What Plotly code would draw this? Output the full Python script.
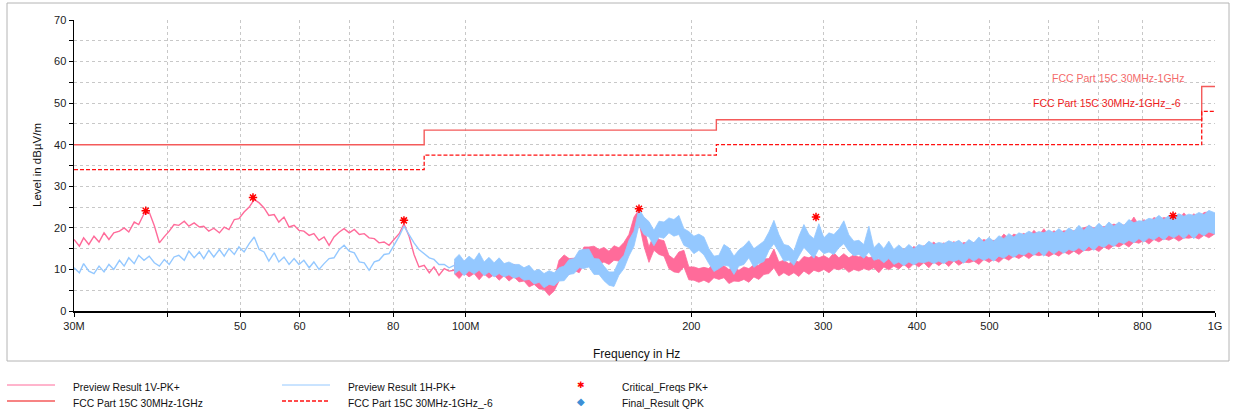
import math
import plotly.graph_objects as go

# ---------------- data (frequencies in MHz, levels in dBuV/m) ----------------
FREQ_LOW = [30.0, 30.5, 30.9, 31.4, 31.9, 32.4, 32.9, 33.4, 33.9, 34.5,
            35.0, 35.5, 36.1, 36.6, 37.2, 37.8, 38.4, 39.0, 39.6, 40.2,
            40.8, 41.4, 42.1, 42.7, 43.4, 44.1, 44.7, 45.4, 46.1, 46.9,
            47.6, 48.3, 49.1, 49.8, 50.6, 51.4, 52.2, 53.0, 53.8, 54.6,
            55.5, 56.3, 57.2, 58.1, 59.0, 59.9, 60.8, 61.8, 62.7, 63.7,
            64.7, 65.7, 66.7, 67.8, 68.8, 69.9, 71.0, 72.1, 73.2, 74.3,
            75.5, 76.6, 77.8, 79.0, 80.2, 81.5, 82.7, 84.0, 85.3, 86.6,
            88.0, 89.4, 90.7, 92.1, 93.6, 95.0, 96.5]

# Preview Result 1V-PK+ (low band, single line)
V_LOW = [17.2, 15.6, 17.6, 16.0, 18.0, 16.6, 18.8, 17.2, 18.8, 19.2,
         20.0, 19.0, 21.4, 20.8, 23.4, 23.8, 20.5, 16.4, 17.9, 19.2,
         20.8, 20.6, 21.6, 20.4, 21.2, 20.2, 20.4, 19.2, 19.9, 18.8,
         20.2, 19.6, 22.0, 22.2, 23.8, 25.0, 26.8, 26.0, 24.8, 23.0,
         23.2, 21.4, 22.6, 20.2, 20.6, 19.4, 19.2, 18.2, 18.6, 17.0,
         17.8, 15.8, 17.8, 19.0, 19.8, 18.8, 19.6, 18.4, 18.6, 17.6,
         17.4, 16.4, 16.6, 15.8, 17.2, 18.6, 21.0, 18.0, 13.6, 10.6,
         11.0, 9.2, 10.6, 8.6, 10.2, 9.6, 9.8]

# Preview Result 1H-PK+ (low band, single line)
H_LOW = [10.4, 9.2, 11.4, 9.6, 9.0, 10.8, 9.4, 11.2, 10.0, 12.2,
         10.8, 12.8, 11.4, 13.4, 12.2, 13.2, 11.6, 10.8, 12.4, 11.2,
         13.0, 13.4, 12.2, 14.4, 12.8, 14.2, 12.6, 14.6, 13.0, 14.8,
         13.2, 15.0, 13.6, 15.4, 14.2, 16.2, 17.8, 14.8, 14.2, 12.0,
         14.0, 11.8, 13.0, 11.2, 12.6, 11.2, 12.2, 10.4, 11.8, 10.0,
         11.4, 12.6, 12.8, 14.8, 15.8, 14.4, 14.0, 11.8, 11.6, 9.8,
         11.8, 12.2, 13.6, 13.8, 15.8, 18.0, 20.4, 18.2, 16.4, 14.8,
         13.8, 12.8, 12.4, 11.2, 11.2, 10.4, 11.0]

FREQ_BAND = [96.5, 98.0, 99.5, 101.0, 102.6, 104.2, 105.8, 107.4, 109.1, 110.8,
             112.5, 114.2, 116.0, 117.8, 119.6, 121.5, 123.4, 125.3, 127.2, 129.2,
             131.2, 133.2, 135.3, 137.4, 139.5, 141.7, 143.8, 146.0, 148.3, 150.6,
             152.9, 155.3, 157.7, 160.1, 162.6, 165.1, 167.7, 170.3, 172.9, 175.6,
             178.3, 181.1, 183.9, 186.7, 189.6, 192.5, 195.5, 198.5, 201.6, 204.7,
             207.9, 211.1, 214.4, 217.7, 221.1, 224.5, 228.0, 231.5, 235.1, 238.7,
             242.4, 246.2, 250.0, 253.9, 257.8, 261.8, 265.8, 269.9, 274.1, 278.3,
             282.7, 287.1, 291.5, 296.0, 300.6, 305.3, 310.0, 314.8, 319.6, 324.6,
             329.6, 334.7, 339.9, 345.2, 350.5, 355.9, 361.4, 367.0, 372.7, 378.5,
             384.3, 390.3, 396.3, 402.4, 408.7, 415.0, 421.4, 427.9, 434.6, 441.3,
             448.2, 455.1, 462.2, 469.4, 476.6, 484.0, 491.5, 499.1, 506.8, 514.7,
             522.6, 530.7, 538.9, 547.3, 555.8, 564.4, 573.1, 582.0, 591.0, 600.2,
             609.5, 618.9, 628.5, 638.2, 648.1, 658.2, 668.3, 678.7, 689.2, 699.9,
             710.7, 721.7, 732.9, 744.3, 755.8, 767.5, 779.4, 791.5, 803.7, 816.2,
             828.8, 841.7, 854.7, 867.9, 881.3, 895.0, 908.8, 922.9, 937.2, 951.7,
             966.5, 981.4, 1000.0]

# Preview Result 1V-PK+ (dense part: lower / upper edge of the noise band)
V_LO = [9.0, 7.8, 9.2, 8.2, 9.0, 7.5, 8.9, 7.9, 8.7, 7.4,
        8.5, 7.2, 8.2, 7.0, 7.2, 5.8, 6.4, 5.3, 5.2, 3.7,
        4.8, 7.2, 8.6, 8.8, 9.8, 9.2, 11.2, 11.5, 12.2, 11.1,
        11.8, 11.2, 12.2, 12.0, 13.2, 14.4, 18.6, 21.3, 15.6, 11.7,
        14.6, 13.6, 13.2, 10.2, 9.4, 9.2, 10.6, 7.5, 7.4, 6.9,
        7.4, 6.8, 8.0, 7.6, 8.0, 6.6, 7.2, 7.1, 7.6, 6.9,
        8.2, 7.6, 8.8, 9.0, 10.4, 8.4, 9.2, 8.5, 9.2, 8.3,
        9.6, 8.8, 9.8, 9.4, 10.0, 9.2, 10.2, 9.9, 10.4, 9.3,
        10.0, 9.6, 10.2, 9.8, 10.4, 9.2, 10.6, 9.9, 10.8, 10.1,
        11.2, 10.2, 11.4, 10.6, 11.6, 10.4, 11.8, 10.9, 11.8, 10.7,
        12.0, 11.0, 11.8, 11.6, 12.0, 11.2, 12.4, 11.7, 12.4, 11.7,
        12.8, 12.2, 13.2, 12.6, 13.4, 12.6, 13.6, 13.3, 13.6, 13.1,
        13.8, 13.2, 14.2, 13.6, 14.4, 13.6, 14.6, 14.5, 15.0, 14.3,
        15.4, 14.8, 15.8, 15.4, 16.2, 15.4, 16.6, 16.3, 17.0, 16.1,
        17.2, 16.6, 17.4, 17.0, 17.6, 16.8, 17.6, 17.5, 17.8, 17.3,
        18.2, 17.6, 18.6]
V_HI = [11.7, 10.6, 12.1, 10.4, 11.9, 10.6, 11.8, 10.4, 11.5, 10.2,
        11.3, 10.0, 11.3, 9.6, 9.7, 8.8, 9.4, 7.8, 8.0, 6.8,
        7.7, 12.2, 13.5, 12.6, 12.7, 13.0, 15.4, 15.4, 15.6, 14.8,
        15.3, 14.4, 15.7, 15.2, 16.5, 18.4, 22.6, 24.4, 20.0, 15.4,
        18.5, 17.2, 16.9, 13.4, 12.5, 14.2, 14.6, 10.6, 10.6, 10.2,
        10.5, 10.2, 11.7, 10.6, 10.9, 10.0, 10.6, 9.8, 10.6, 10.2,
        11.1, 11.0, 12.5, 12.6, 14.9, 11.8, 12.2, 11.4, 12.2, 11.8,
        13.1, 12.8, 13.5, 12.8, 13.3, 12.6, 14.0, 12.8, 13.8, 12.8,
        13.5, 13.0, 13.5, 12.8, 13.1, 12.4, 13.8, 13.0, 14.0, 14.0,
        14.9, 14.6, 15.5, 15.0, 15.7, 15.6, 16.6, 15.4, 16.4, 15.6,
        16.7, 15.8, 16.5, 16.2, 16.5, 16.6, 17.2, 16.8, 17.0, 17.0,
        18.5, 17.4, 18.5, 18.0, 18.7, 17.8, 19.4, 18.2, 19.8, 18.2,
        19.3, 18.8, 19.3, 19.2, 19.3, 19.4, 20.0, 20.4, 20.0, 20.0,
        20.3, 20.4, 20.9, 20.6, 20.7, 20.8, 22.6, 20.6, 22.0, 21.0,
        22.5, 22.0, 22.5, 22.2, 23.5, 22.0, 23.6, 22.2, 23.4, 22.4,
        23.7, 23.8, 23.4]

# Preview Result 1H-PK+ (dense part: lower / upper edge of the noise band)
H_LO = [8.9, 9.8, 8.5, 9.7, 8.9, 9.8, 8.5, 9.4, 8.2, 9.0,
        8.2, 8.7, 7.9, 8.3, 7.4, 7.6, 6.5, 6.9, 5.6, 6.4,
        6.1, 7.2, 7.3, 8.8, 9.0, 10.4, 10.2, 10.6, 8.8, 8.8,
        7.3, 6.2, 5.9, 8.6, 10.2, 13.2, 15.6, 20.6, 18.4, 17.8,
        15.7, 17.8, 17.5, 18.8, 18.0, 18.4, 15.8, 15.2, 13.8, 14.6,
        13.5, 11.4, 9.5, 10.2, 11.0, 10.8, 8.8, 10.8, 11.2, 12.8,
        10.5, 11.4, 11.9, 14.6, 16.2, 14.2, 12.0, 12.2, 11.0, 13.2,
        15.3, 14.0, 12.7, 15.0, 13.8, 14.2, 13.6, 15.2, 16.2, 14.4,
        13.3, 13.6, 12.7, 14.2, 12.2, 12.6, 11.6, 12.6, 11.2, 11.8,
        10.9, 11.8, 11.1, 11.8, 11.6, 12.0, 11.4, 12.0, 11.4, 12.2,
        11.9, 12.4, 11.5, 12.8, 12.0, 12.8, 12.2, 12.8, 12.0, 13.2,
        12.7, 13.6, 12.9, 13.8, 13.4, 14.2, 13.4, 14.4, 13.2, 14.6,
        13.7, 14.6, 13.9, 14.8, 14.4, 15.2, 14.4, 15.6, 14.6, 15.8,
        15.3, 16.2, 15.5, 16.6, 16.2, 17.0, 16.4, 17.4, 16.6, 17.6,
        17.1, 18.0, 17.1, 18.2, 17.6, 18.4, 17.4, 18.6, 17.4, 18.8,
        18.1, 19.0, 18.5]
H_HI = [12.4, 13.6, 12.0, 13.2, 12.2, 14.0, 11.8, 12.9, 11.6, 12.8,
        11.4, 11.8, 11.2, 11.2, 10.4, 11.0, 9.6, 10.0, 9.0, 9.7,
        9.2, 10.4, 10.8, 12.4, 12.6, 14.6, 14.8, 14.9, 12.6, 12.5,
        10.8, 9.4, 9.4, 12.0, 13.4, 17.0, 19.2, 24.6, 22.6, 21.5,
        19.4, 21.6, 21.4, 22.4, 22.0, 23.0, 19.8, 19.1, 18.0, 18.5,
        17.8, 15.0, 13.2, 13.4, 16.0, 15.2, 13.2, 14.7, 15.6, 16.9,
        15.0, 16.0, 16.8, 19.0, 21.8, 18.4, 16.0, 15.7, 14.4, 17.9,
        20.8, 18.4, 17.4, 21.0, 17.6, 18.8, 18.4, 19.7, 21.7, 18.3,
        16.8, 17.0, 16.0, 20.4, 15.2, 16.4, 15.0, 16.8, 14.8, 15.9,
        14.8, 16.0, 15.0, 16.0, 15.6, 16.8, 16.0, 16.5, 16.2, 16.9,
        16.4, 17.0, 16.0, 17.2, 16.4, 17.8, 16.6, 17.7, 16.8, 18.1,
        17.4, 18.6, 17.8, 18.8, 18.4, 19.2, 18.6, 19.1, 18.8, 19.5,
        18.8, 19.8, 18.8, 20.0, 19.2, 20.6, 19.4, 20.7, 19.8, 21.1,
        20.0, 21.4, 20.4, 21.4, 20.6, 22.0, 21.2, 21.7, 21.6, 22.3,
        22.0, 23.0, 22.0, 23.0, 22.6, 23.4, 22.8, 23.3, 23.0, 23.7,
        23.2, 24.2, 23.6]

# Critical_Freqs PK+
CRIT_F = [37.4, 52.0, 82.7, 170.3, 293.4, 879.0]
CRIT_L = [24.1, 27.3, 21.8, 24.6, 22.6, 22.9]

# FCC Part 15C 30MHz-1GHz limit (band edges and levels)
LIMIT_EDGES = [30, 88, 216, 960, 1000]
LIMIT_LEVELS = [40.0, 43.5, 46.0, 54.0]
MARGIN = 6.0

X_TICKS = [30, 40, 50, 60, 70, 80, 100, 200, 300, 400, 500, 600, 700, 800, 1000]
X_TICKTEXT = ["30M", "", "50", "60", "", "80", "100M", "200", "300", "400", "500", "", "", "800", "1G"]

# ---------------- styling ----------------
PINK = "#ff6b9a"
BLUE = "#94c8ff"
LIM_RED = "#f45a5a"
DASH_RED = "#ff1010"
FONT = "Liberation Sans, Arial, sans-serif"

W, H = 1235, 415
L, R, T, B = 74, 20, 20, 104
PW, PH = W - L - R, H - T - B


def px(x):
    return (x - L) / PW


def py(y):
    return (H - B - y) / PH


fig = go.Figure()

# pink (1V)
fig.add_trace(go.Scatter(x=FREQ_LOW, y=V_LOW, mode="lines",
                         line=dict(color=PINK, width=1.4), hoverinfo="skip"))
fig.add_trace(go.Scatter(x=FREQ_BAND + FREQ_BAND[::-1], y=V_HI + V_LO[::-1],
                         mode="lines", fill="toself", fillcolor=PINK,
                         line=dict(color=PINK, width=0.8), hoverinfo="skip"))
# blue (1H)
fig.add_trace(go.Scatter(x=FREQ_LOW, y=H_LOW, mode="lines",
                         line=dict(color=BLUE, width=1.4), hoverinfo="skip"))
fig.add_trace(go.Scatter(x=FREQ_BAND + FREQ_BAND[::-1], y=H_HI + H_LO[::-1],
                         mode="lines", fill="toself", fillcolor=BLUE,
                         line=dict(color=BLUE, width=0.8), hoverinfo="skip"))

# limit lines
lim_y = LIMIT_LEVELS + [LIMIT_LEVELS[-1]]
fig.add_trace(go.Scatter(x=LIMIT_EDGES, y=lim_y, mode="lines", line_shape="hv",
                         line=dict(color=LIM_RED, width=1.4), hoverinfo="skip"))
fig.add_trace(go.Scatter(x=LIMIT_EDGES, y=[v - MARGIN for v in lim_y], mode="lines",
                         line_shape="hv",
                         line=dict(color=DASH_RED, width=1.3, dash="4px,2px"),
                         hoverinfo="skip"))

# critical frequencies
fig.add_trace(go.Scatter(x=CRIT_F, y=CRIT_L, mode="markers",
                         marker=dict(symbol="circle", size=3.5, color="#ff0000"),
                         hoverinfo="skip"))
fig.add_trace(go.Scatter(x=CRIT_F, y=CRIT_L, mode="markers",
                         marker=dict(symbol="asterisk", size=7,
                                     line=dict(color="#ff0000", width=1.5)),
                         hoverinfo="skip"))

grid = dict(showgrid=True, gridcolor="#c8c8c8", gridwidth=1, griddash="dot")

fig.update_layout(
    width=W, height=H,
    margin=dict(l=L, r=R, t=T, b=B),
    paper_bgcolor="white", plot_bgcolor="white",
    showlegend=False,
    hovermode=False,
    font=dict(family=FONT, size=11, color="#222"),
    xaxis=dict(type="log", range=[math.log10(30), math.log10(1000)],
               tickmode="array", tickvals=X_TICKS, ticktext=X_TICKTEXT,
               showline=True, linecolor="#000", linewidth=1.5,
               ticks="outside", ticklen=4, tickcolor="#000", tickwidth=1,
               tickfont=dict(family=FONT, size=11, color="#222"),
               zeroline=False, **grid),
    yaxis=dict(range=[0, 70], tick0=0, dtick=10,
               showline=True, linecolor="#000", linewidth=1.5,
               ticks="outside", ticklen=4, tickcolor="#000", tickwidth=1,
               tickfont=dict(family=FONT, size=11, color="#222"),
               minor=dict(dtick=5, ticks="outside", ticklen=4, tickcolor="#000",
                          showgrid=True, gridcolor="#c8c8c8", griddash="dot"),
               zeroline=False, **grid),
)

shapes = [
    # outer frame
    dict(type="rect", xref="paper", yref="paper",
         x0=px(7), x1=px(1229), y0=py(361), y1=py(3),
         line=dict(color="#b4b4b4", width=1), layer="below"),
    # legend samples
    dict(type="line", xref="paper", yref="paper", x0=px(7), x1=px(55),
         y0=py(385), y1=py(385), line=dict(color=PINK, width=1)),
    dict(type="line", xref="paper", yref="paper", x0=px(7), x1=px(55),
         y0=py(401), y1=py(401), line=dict(color=LIM_RED, width=1.4)),
    dict(type="line", xref="paper", yref="paper", x0=px(282), x1=px(330),
         y0=py(385), y1=py(385), line=dict(color=BLUE, width=1)),
    dict(type="line", xref="paper", yref="paper", x0=px(282), x1=px(330),
         y0=py(401), y1=py(401), line=dict(color=DASH_RED, width=1.3, dash="4px,2px")),
]

ann_font = dict(family=FONT, size=10.3, color="#111")


def text(x, y, s, **kw):
    d = dict(xref="paper", yref="paper", x=px(x), y=py(y), text=s, showarrow=False,
             xanchor="left", yanchor="middle", font=ann_font)
    d.update(kw)
    return d


annotations = [
    text(71, 387, "Preview Result 1V-PK+"),
    text(71, 403, "FCC Part 15C 30MHz-1GHz"),
    text(346, 387, "Preview Result 1H-PK+"),
    text(346, 403, "FCC Part 15C 30MHz-1GHz_-6"),
    text(620, 387, "Critical_Freqs PK+"),
    text(620, 403, "Final_Result QPK"),
    text(581, 385, "✱", xanchor="center",
         font=dict(family="DejaVu Sans", size=9, color="#ff0000")),
    text(581, 401, "◆", xanchor="center",
         font=dict(family="DejaVu Sans", size=10, color="#3d8fd6")),
    # limit labels
    text(1186, 78, "FCC Part 15C 30MHz-1GHz", xanchor="right",
         font=dict(family=FONT, size=10.5, color="#f46a6a")),
    text(1183, 103, "FCC Part 15C 30MHz-1GHz_-6", xanchor="right",
         font=dict(family=FONT, size=10.5, color="#ee1c1c")),
    # axis titles
    text(636, 354, "Frequency in Hz", xanchor="center",
         font=dict(family=FONT, size=12, color="#111")),
    text(37, 165, "Level in dBµV/m", xanchor="center", textangle=-90,
         font=dict(family=FONT, size=11.5, color="#111")),
]

fig.update_layout(shapes=shapes, annotations=annotations)

fig.write_html("out.html",
               config={"displayModeBar": False, "staticPlot": True},
               post_script="document.body.style.margin='0';document.body.style.padding='0';")
